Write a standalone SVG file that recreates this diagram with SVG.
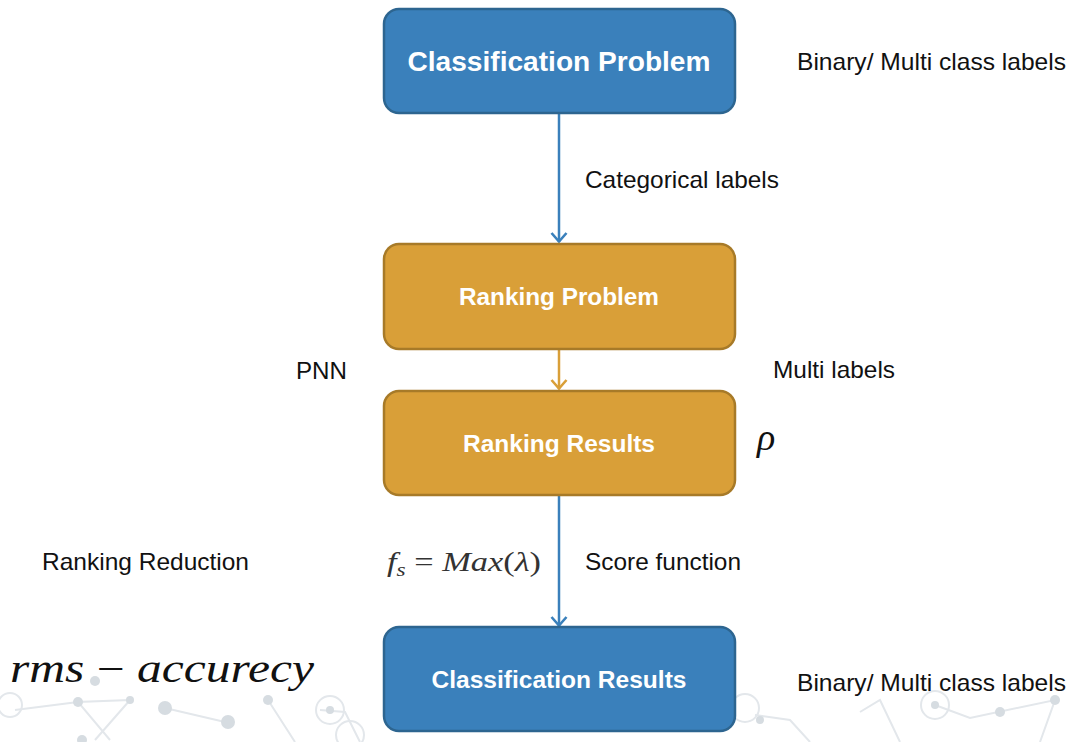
<svg xmlns="http://www.w3.org/2000/svg" width="1070" height="742" viewBox="0 0 1070 742">
<style>
.lbl{font-family:"Liberation Sans",Arial,sans-serif;font-size:24px;fill:#111}
.nt{font-family:"Liberation Sans",Arial,sans-serif;font-weight:bold;fill:#fff;text-anchor:middle}
.blue{fill:#3a80bb;stroke:#2d6590;stroke-width:2.5}
.gold{fill:#d99f38;stroke:#a77a28;stroke-width:2.5}
.math{font-family:"Liberation Serif","DejaVu Serif",serif;font-style:italic}
.deco{fill:none;stroke:#e3e7eb;stroke-width:2}
.dot{fill:#d6dce1}
</style>
<defs>
<marker id="ab" viewBox="0 0 12 18" refX="11" refY="9" markerWidth="12" markerHeight="18" markerUnits="userSpaceOnUse" orient="auto">
<path d="M2,1.5 L10.5,9 L2,16.5" fill="none" stroke="#3a80bb" stroke-width="2.6"/>
</marker>
<marker id="ag" viewBox="0 0 12 18" refX="11" refY="9" markerWidth="12" markerHeight="18" markerUnits="userSpaceOnUse" orient="auto">
<path d="M2,1.5 L10.5,9 L2,16.5" fill="none" stroke="#d99f38" stroke-width="2.6"/>
</marker>
</defs>
<rect width="1070" height="742" fill="#fff"/>
<g id="decoration">
<path class="deco" d="M15,710 L78,702 L130,700 L78,702 L110,740 M130,700 L95,740 M165,708 L225,722 M268,700 L295,742 M320,710 L345,712 L360,742 M755,715 L790,720 L810,742 M860,712 L880,700 L900,742 M935,705 L970,718 L1055,700 L1040,742"/>
<circle class="deco" cx="10" cy="705" r="12"/>
<circle class="deco" cx="330" cy="710" r="14"/>
<circle class="deco" cx="745" cy="708" r="14"/>
<circle class="deco" cx="935" cy="705" r="14"/>
<circle class="deco" cx="350" cy="735" r="14"/>
<circle class="dot" cx="95" cy="681" r="5"/>
<circle class="dot" cx="78" cy="702" r="5"/>
<circle class="dot" cx="130" cy="700" r="4"/>
<circle class="dot" cx="165" cy="708" r="7"/>
<circle class="dot" cx="228" cy="722" r="7"/>
<circle class="dot" cx="268" cy="700" r="5"/>
<circle class="dot" cx="330" cy="710" r="4"/>
<circle class="dot" cx="760" cy="720" r="4"/>
<circle class="dot" cx="935" cy="705" r="4"/>
<circle class="dot" cx="1055" cy="700" r="5"/>
<circle class="dot" cx="1000" cy="712" r="5"/>
<circle class="dot" cx="82" cy="740" r="5"/>
</g>
<g id="connectors">
<line x1="559" y1="114" x2="559" y2="242" stroke="#3a80bb" stroke-width="2.5" marker-end="url(#ab)"/>
<line x1="559" y1="350" x2="559" y2="389" stroke="#d99f38" stroke-width="2.5" marker-end="url(#ag)"/>
<line x1="559" y1="496" x2="559" y2="626" stroke="#3a80bb" stroke-width="2.5" marker-end="url(#ab)"/>
</g>
<g id="n1">
<rect class="blue" x="384" y="9" width="351" height="104" rx="15"/>
<text class="nt" x="559" y="71" font-size="28" textLength="303" lengthAdjust="spacingAndGlyphs">Classification Problem</text>
</g>
<g id="n2">
<rect class="gold" x="384" y="244" width="351" height="105" rx="15"/>
<text class="nt" x="559" y="305" font-size="23" textLength="200" lengthAdjust="spacingAndGlyphs">Ranking Problem</text>
</g>
<g id="n3">
<rect class="gold" x="384" y="391" width="351" height="104" rx="15"/>
<text class="nt" x="559" y="452" font-size="23" textLength="192" lengthAdjust="spacingAndGlyphs">Ranking Results</text>
</g>
<g id="n4">
<rect class="blue" x="384" y="627" width="351" height="104" rx="15"/>
<text class="nt" x="559" y="688" font-size="24" textLength="255" lengthAdjust="spacingAndGlyphs">Classification Results</text>
</g>
<g id="labels">
<text class="lbl" x="797" y="70" textLength="269" lengthAdjust="spacingAndGlyphs">Binary/ Multi class labels</text>
<text class="lbl" x="585" y="188" textLength="194" lengthAdjust="spacingAndGlyphs">Categorical labels</text>
<text class="lbl" x="296" y="379" textLength="51" lengthAdjust="spacingAndGlyphs">PNN</text>
<text class="lbl" x="773" y="378" textLength="122" lengthAdjust="spacingAndGlyphs">Multi labels</text>
<text class="math" x="757" y="450" font-size="38" fill="#111">ρ</text>
<text class="lbl" x="42" y="570" textLength="207" lengthAdjust="spacingAndGlyphs">Ranking Reduction</text>
<text class="math" x="387" y="571" font-size="28" fill="#333" textLength="154" lengthAdjust="spacingAndGlyphs">f<tspan font-size="19" dy="5">s</tspan><tspan dy="-5" font-style="normal"> = </tspan>Max<tspan font-style="normal">(</tspan>λ<tspan font-style="normal">)</tspan></text>
<text class="lbl" x="585" y="570" textLength="156" lengthAdjust="spacingAndGlyphs">Score function</text>
<text class="math" x="10" y="682" font-size="40" fill="#111" textLength="304" lengthAdjust="spacingAndGlyphs">rms <tspan font-style="normal">−</tspan> accurecy</text>
<text class="lbl" x="797" y="691" textLength="269" lengthAdjust="spacingAndGlyphs">Binary/ Multi class labels</text>
</g>
</svg>
